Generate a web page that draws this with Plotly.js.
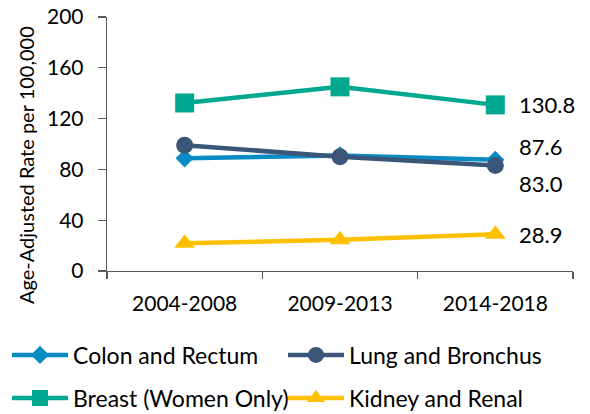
<!DOCTYPE html>
<html>
<head>
<meta charset="utf-8">
<script src="https://cdn.plot.ly/plotly-3.0.1.min.js"></script>
<style>html,body{margin:0;padding:0;background:#fff;}#chart{width:590px;height:414px;}</style>
</head>
<body>
<div id="chart"></div>
<script>
var periods = ["2004-2008", "2009-2013", "2014-2018"];
var colonRectum = [88.7, 91.0, 87.6];
var lungBronchus = [99.0, 90.0, 83.0];
var breastWomen = [132.3, 145.0, 130.8];
var kidneyRenal = [21.8, 24.6, 28.9];
var yTicks = [0, 40, 80, 120, 160, 200];
var yTitle = "Age-Adjusted Rate per 100,000";

var FONT = "Lato, 'Open Sans', sans-serif";
var PL = 107, PT = 17, PW = 466, PH = 254;
function px2x(p) { return (p - PL) / PW; }
function px2y(p) { return (PT + PH - p) / PH; }

function tr(name, y, color, symbol, size, legend) {
  return {
    type: "scatter", mode: "lines+markers", name: name,
    x: periods, y: y,
    line: {color: color, width: 4.5},
    marker: {color: color, symbol: symbol, size: size},
    legend: legend, cliponaxis: false
  };
}

var data = [
  tr("Breast (Women Only)", breastWomen, "#00A88F", "square", 19, "legend3"),
  tr("Kidney and Renal", kidneyRenal, "#FFC000", "triangle-up", 18, "legend4"),
  tr("Colon and Rectum", colonRectum, "#0A8BC3", "diamond", 14, "legend"),
  tr("Lung and Bronchus", lungBronchus, "#3B5678", "circle", 17, "legend2")
];

var last = periods[periods.length - 1];
var labels = [
  {v: breastWomen[2], dy: 0},
  {v: colonRectum[2], dy: 13},
  {v: lungBronchus[2], dy: -18},
  {v: kidneyRenal[2], dy: 0}
];
var annotations = labels.map(function (l) {
  return {
    x: last, y: l.v, xref: "x", yref: "y", text: l.v.toFixed(1),
    showarrow: false, xanchor: "left", yanchor: "middle",
    xshift: 22, yshift: l.dy, font: {family: FONT, size: 22, color: "#000"}
  };
});
annotations.push({
  xref: "paper", yref: "paper", x: px2x(26), y: px2y(165), text: yTitle,
  textangle: -90, showarrow: false, xanchor: "center", yanchor: "middle",
  font: {family: FONT, size: 20, color: "#000"}
});

var IW = 56;
function leg(textX, py) {
  return {
    orientation: "v", xref: "paper", yref: "paper", xanchor: "left", yanchor: "middle",
    x: px2x(textX - IW - 11), y: px2y(py), bgcolor: "rgba(0,0,0,0)", borderwidth: 0,
    font: {family: FONT, size: 23, color: "#000"}, itemwidth: IW
  };
}

var layout = {
  width: 590, height: 414,
  margin: {l: PL, r: 590 - PL - PW, t: PT, b: 414 - PT - PH, autoexpand: false},
  paper_bgcolor: "#fff", plot_bgcolor: "#fff",
  font: {family: FONT, color: "#000"},
  showlegend: true,
  legend: leg(74, 355),
  legend2: leg(350, 355),
  legend3: leg(74, 398),
  legend4: leg(350, 398),
  xaxis: {
    type: "category", range: [-0.5, 2.5], showgrid: false, showline: true, linecolor: "#595959", linewidth: 1.3,
    ticks: "outside", tickson: "boundaries", ticklen: 7, tickcolor: "#595959", tickwidth: 1.3,
    ticklabelstandoff: 13,
    tickfont: {family: FONT, size: 21, color: "#000"}, zeroline: false, fixedrange: true
  },
  yaxis: {
    range: [0, 200], tickvals: yTicks, showgrid: false, showline: true, linecolor: "#595959", linewidth: 1.3,
    ticks: "outside", ticklen: 8, tickcolor: "#595959", tickwidth: 1.3,
    ticklabelstandoff: 10,
    tickfont: {family: FONT, size: 21, color: "#000"}, zeroline: false
  },
  annotations: annotations
};

Plotly.newPlot("chart", data, layout, {displayModeBar: false, staticPlot: true});
</script>
</body>
</html>
